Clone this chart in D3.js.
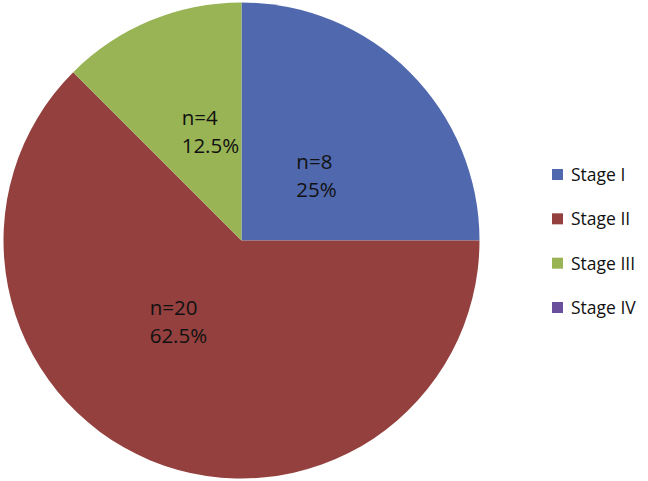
<!DOCTYPE html>
<html><head><meta charset="utf-8">
<script src="https://cdn.jsdelivr.net/npm/d3@7"></script>
<style>body{margin:0;background:#fff}svg{display:block}</style>
</head><body>
<svg id="c" width="648" height="481"></svg>
<script>
const categories = ["Stage I", "Stage II", "Stage III", "Stage IV"];
const counts = [8, 20, 4, 0];
const percents = ["25%", "62.5%", "12.5%", "0%"];
const colors = ["#5068AD", "#93403E", "#98B455", "#6A4F9C"];

const svg = d3.select("#c");
const cx = 241.5, cy = 240.5, R = 238;
const font = "'Open Sans', sans-serif";
// small label placement nudges (styling, per slice)
const labelNudge = [[1, 10], [-23, -15], [9, -12], [0, 0]];

const pie = d3.pie().sort(null).value(d => d.v);
const data = categories.map((c, i) => ({c, v: counts[i], p: percents[i], col: colors[i], i}));
const arcs = pie(data);
const arc = d3.arc().innerRadius(0).outerRadius(R);
const labelArc = d3.arc().innerRadius(R * 0.44).outerRadius(R * 0.44);

const g = svg.append("g").attr("transform", `translate(${cx},${cy})`);
g.selectAll("path").data(arcs).join("path")
  .attr("d", arc).attr("fill", d => d.data.col);

arcs.filter(d => d.data.v > 0).forEach(d => {
  const [x, y] = labelArc.centroid(d);
  const [nx, ny] = labelNudge[d.data.i];
  const t = g.append("text").attr("font-family", font).attr("font-size", 20.5)
    .attr("fill", "#111");
  t.append("tspan").attr("x", 0).attr("y", 0).text("n=" + d.data.v);
  t.append("tspan").attr("x", 0).attr("y", 28).text(d.data.p);
  const bb = t.node().getBBox();
  t.attr("transform", `translate(${x - bb.width / 2 + nx},${y - 28 / 2 + 7 + ny})`);
});

const ly = d3.scalePoint().domain(categories).range([174, 307]);
const leg = svg.append("g");
categories.forEach((c, i) => {
  leg.append("rect").attr("x", 552).attr("y", ly(c) - 5).attr("width", 11).attr("height", 11)
    .attr("fill", colors[i]);
  leg.append("text").attr("x", 571).attr("y", ly(c) + 7).attr("font-family", font)
    .attr("font-size", 17.5).attr("fill", "#111").text(c);
});
</script>
</body></html>
